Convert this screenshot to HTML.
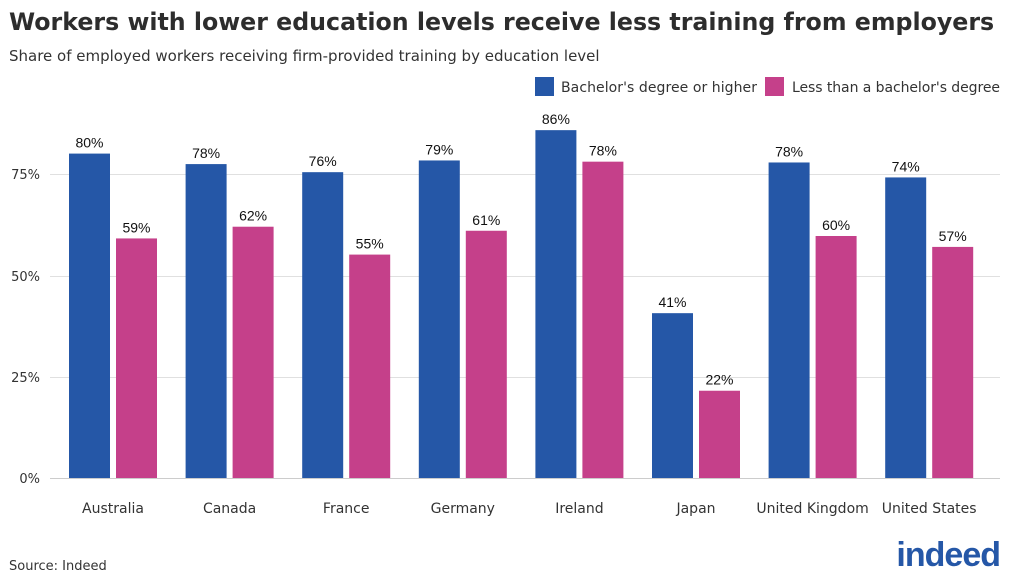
<!DOCTYPE html>
<html><head><meta charset="utf-8"><style>
body{margin:0;background:#fff;}
svg{display:block;font-family:"DejaVu Sans","Liberation Sans",sans-serif;}
</style></head><body>
<svg width="1024" height="585" viewBox="0 0 1024 585" xmlns="http://www.w3.org/2000/svg">
<text x="9" y="30" font-size="23.7" font-weight="bold" fill="#2d2d2d">Workers with lower education levels receive less training from employers</text>
<text x="9" y="61" font-size="15" fill="#333">Share of employed workers receiving firm-provided training by education level</text>
<rect x="535" y="77" width="19" height="19" fill="#2557a7"/>
<text x="561" y="92" font-size="14" fill="#333" textLength="196">Bachelor's degree or higher</text>
<rect x="765" y="77" width="19" height="19" fill="#c5408a"/>
<text x="792" y="92" font-size="14" fill="#333" textLength="208">Less than a bachelor's degree</text>
<g stroke="#e0e0e0" stroke-width="1">
<line x1="50" x2="1000" y1="174.5" y2="174.5"/>
<line x1="50" x2="1000" y1="276.5" y2="276.5"/>
<line x1="50" x2="1000" y1="377.5" y2="377.5"/>
<line x1="50" x2="1000" y1="478.5" y2="478.5" stroke="#ccc"/>
</g>
<g font-size="13" fill="#333" text-anchor="end">
<text x="40" y="179">75%</text><text x="40" y="281">50%</text><text x="40" y="382">25%</text><text x="40" y="483">0%</text>
</g>
<g id="bars" font-size="14" fill="#111" text-anchor="middle" font-family="Liberation Sans, sans-serif"></g>
<g font-size="14" fill="#333" text-anchor="middle" id="labs"></g>
<text x="9" y="570" font-size="13" fill="#333">Source: Indeed</text>
<text x="1000" y="566" font-size="34" font-weight="bold" fill="#2557a7" text-anchor="end" font-family="Liberation Sans, sans-serif" letter-spacing="-1">indeed</text>
<script>
var d=[["Australia",80.3,59.3,80,59],["Canada",77.7,62.2,78,62],["France",75.7,55.3,76,55],["Germany",78.6,61.2,79,61],["Ireland",86.1,78.3,86,78],["Japan",40.8,21.6,41,22],["United Kingdom",78.1,59.9,78,60],["United States",74.4,57.2,74,57]];
var ns="http://www.w3.org/2000/svg",g=document.getElementById("bars"),l=document.getElementById("labs");
function el(p,t,a){var e=document.createElementNS(ns,t);for(var k in a)e.setAttribute(k,a[k]);p.appendChild(e);return e;}
d.forEach(function(r,i){var c=113+i*116.6;
[[r[1],r[3],c-44,"#2557a7"],[r[2],r[4],c+3,"#c5408a"]].forEach(function(b){var h=b[0]*4.04,y=478-h;
el(g,"rect",{x:b[2],y:y,width:41,height:h,fill:b[3]});
el(g,"text",{x:b[2]+20.5,y:y-6}).textContent=b[1]+"%";});
el(l,"text",{x:c,y:513}).textContent=r[0];});
</script>
</svg>
</body></html>
